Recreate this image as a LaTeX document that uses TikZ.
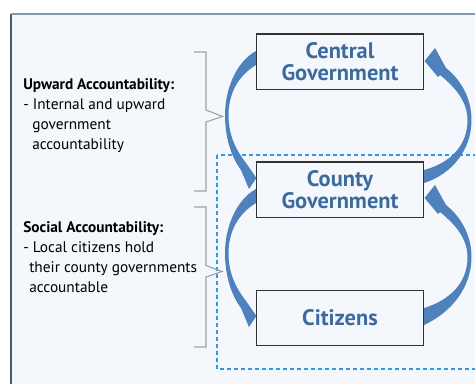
\documentclass[tikz,border=0pt]{standalone}
\usepackage{fontspec}
\setmainfont{PT Sans}

\definecolor{panelfill}{HTML}{F4F8FC}
\definecolor{panelrule}{HTML}{8198B0}
\definecolor{paneledge}{HTML}{4B5B70}
\definecolor{labelblue}{HTML}{3D6A9E}
\definecolor{loopblue}{HTML}{4F81BD}
\definecolor{localblue}{HTML}{3399DD}
\definecolor{bracegray}{HTML}{A0A0A0}
\definecolor{boxline}{HTML}{333333}

\begin{document}
\begin{tikzpicture}[x=0.75pt, y=-0.75pt,
        govbox/.style = {draw=boxline, line width=1.1pt, fill=panelfill,
            minimum width=125pt, minimum height=41.6pt, inner sep=0pt,
            align=center, text=labelblue,
            font=\bfseries\fontsize{16.8}{16.5}\selectfont},
        loop/.style = {fill=loopblue},
        brace/.style = {draw=bracegray, line width=0.8pt},
        note/.style = {anchor=north west, inner sep=0pt, align=left,
            font=\fontsize{11.5}{15}\selectfont}]
    \useasboundingbox (0,0) rectangle (475,383);

    % panel
    \fill[panelfill] (11,14) rectangle (480,390);
    \draw[paneledge, line width=0.8pt] (11,14) -- (11,390);
    \draw[panelrule, line width=1.6pt] (11,14) -- (480,14);

    % local level
    \draw[localblue, line width=0.8pt, dash pattern=on 3pt off 2.25pt]
        (217,155) rectangle (490,369);

    \node[govbox] (central)  at (340,61.5) {Central\\Government};
    \node[govbox] (county)   at (340,189.5) {County\\Government};
    \node[govbox] (citizens) at (340,318) {Citizens};

    \node[note] (upward) at (23,78)
        {\textbf{Upward Accountability:}\\- Internal and upward\\
         \hspace*{6.75pt}government\\\hspace*{6.75pt}accountability};
    \node[note] (social) at (23,221.5)
        {\textbf{Social Accountability:}\\- Local citizens hold\\
         \hspace*{4.5pt}their county governments\\\hspace*{4.5pt}accountable};

    \draw[brace] (194,52) -- (206,52) -- (206,110) -- (222.5,116.5)
        -- (206,122) -- (206,191) -- (194,191);
    \draw[brace] (194,207) -- (206,207) -- (206,265.5) -- (222,271.5)
        -- (206,277) -- (206,347) -- (194,347);

    % central -> county
    \fill[loop] ([shift={(0,-10.5)}]central.west)
        .. controls (236,62) and (224.5,90) .. (225,117)
        .. controls (225.5,140) and (232,158) .. (241,170)
        -- (249,189) -- ([shift={(0.5,-11.5)}]county.west) -- (246,163)
        .. controls (236,150) and (229,136) .. (228.5,117)
        .. controls (228,94) and (238,76) .. ([shift={(0,3.5)}]central.west)
        -- cycle;
    % county -> central
    \fill[loop] ([shift={(0,-6.5)}]county.east)
        .. controls (452,174) and (471.5,150) .. (471.5,120)
        .. controls (471.5,98) and (461,80) .. (446,68)
        -- (435,48) -- ([shift={(0.5,-0.5)}]central.east) -- (438,77)
        -- (440,75)
        .. controls (456,88) and (467.5,102) .. (467.5,120)
        .. controls (467.5,146) and (450,163) .. ([shift={(0,-19.5)}]county.east)
        -- cycle;
    % county -> citizens
    \fill[loop] ([shift={(0,-0.5)}]county.west)
        .. controls (236,200) and (224.5,228) .. (225,255)
        .. controls (225.5,278) and (232,296) .. (241,308)
        -- (249,327) -- ([shift={(0.5,-2)}]citizens.west) -- (246,301)
        .. controls (236,288) and (229,274) .. (228.5,255)
        .. controls (228,232) and (238,214) .. ([shift={(0,13.5)}]county.west)
        -- cycle;
    % citizens -> county
    \fill[loop] ([shift={(0,7)}]citizens.east)
        .. controls (452,312) and (471.5,287) .. (471.5,257)
        .. controls (471.5,235) and (461,217) .. (446,205)
        -- (435,185) -- ([shift={(0.5,8.5)}]county.east) -- (438,214)
        -- (440,212)
        .. controls (456,225) and (467.5,239) .. (467.5,257)
        .. controls (467.5,283) and (450,300) .. ([shift={(0,-10)}]citizens.east)
        -- cycle;
\end{tikzpicture}
\end{document}
